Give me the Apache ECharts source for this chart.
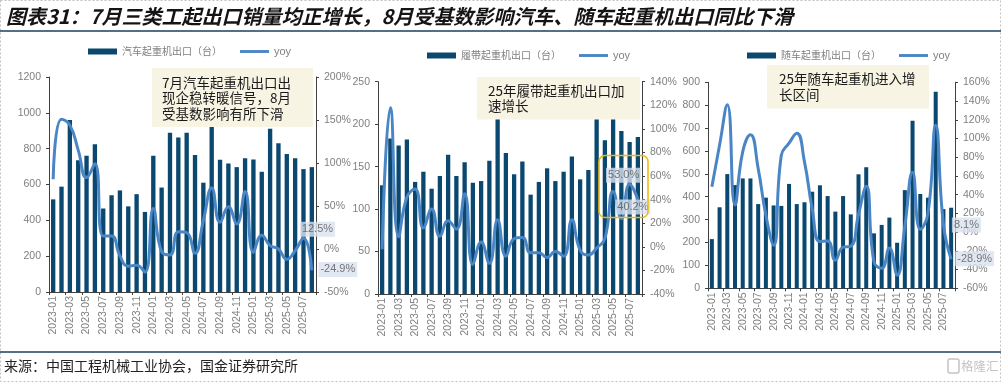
<!DOCTYPE html>
<html><head><meta charset="utf-8">
<script src="https://cdn.jsdelivr.net/npm/echarts@6.0.0/dist/echarts.min.js"></script>
<style>html,body{margin:0;padding:0;background:#fff;}#c{width:1001px;height:382px;}</style>
</head><body><div id="c"></div>
<script>
// ---------- data ----------
const months = ['2023-01','2023-02','2023-03','2023-04','2023-05','2023-06','2023-07','2023-08','2023-09','2023-10','2023-11','2023-12',
  '2024-01','2024-02','2024-03','2024-04','2024-05','2024-06','2024-07','2024-08','2024-09','2024-10','2024-11','2024-12',
  '2025-01','2025-02','2025-03','2025-04','2025-05','2025-06','2025-07','2025-08'];

const truckCraneName = '汽车起重机出口（台）';
const truckCraneExport = [517,588,960,735,761,824,466,540,567,478,546,447,760,583,889,862,889,765,610,960,738,717,697,747,739,671,911,830,770,747,686,697];
const truckCraneYoy = [81,151,144,115,83,99,15,15,-8,-20,-19,-27,47,-3,-7,20,19,-5,33,71,31,49,29,67,-4,16,4,0,-12,-2,12.5,-24.9];

const crawlerCraneName = '履带起重机出口（台）';
const crawlerCraneExport = [128,183,175,182,132,144,124,139,164,139,155,131,133,157,212,166,141,156,117,132,148,133,144,162,135,146,215,181,210,192,179,185];
const crawlerCraneYoy = [-2,118,8.5,42,49,16,32,9,22,15,45,-15,4,-14,23,-8,7,8,-5,-5,-9,-4,-8,23,-3,-7,-1,7,47,24,53.0,40.2];

const loaderCraneName = '随车起重机出口（台）';
const loaderCraneExport = [215,354,499,451,480,480,368,396,362,360,456,368,376,422,450,403,335,403,323,498,529,240,277,309,199,429,732,412,396,859,346,352];
const loaderCraneYoy = [48.5,93,136,29,86,104,68,18,-14,82,95,105.5,75,25,-10,-9.5,-30,-16,-15,19,49,-31.6,-38.7,-17,-46,6,64,3,20,114,8.1,-28.9];

const yoyName = 'yoy';
const leftTicks = [[0,1200,200],[0,250,50],[0,900,100]];
const rightTicks = [[-50,200,50],[-40,140,20],[-60,160,20]];

const chartTitle = '图表31：7月三类工起出口销量均正增长，8月受基数影响汽车、随车起重机出口同比下滑';
const sourceText = '来源：中国工程机械工业协会，国金证券研究所';
const noteTexts = [
  '7月汽车起重机出口出\n现企稳转暖信号，8月\n受基数影响有所下滑',
  '25年履带起重机出口加\n速增长',
  '25年随车起重机进入增\n长区间'
];

// ---------- layout / style ----------
const BAR = '#0b4870';
const LINE = '#4a86c6';
const AX = '#404040';
const TXT = '#7f7f7f';
const FONT = 'Liberation Sans, Arial, Noto Sans CJK SC, sans-serif';
const CJK = 'Noto Sans CJK SC, sans-serif';

const panels = [
  {name: truckCraneName, bars: truckCraneExport, yoy: truckCraneYoy},
  {name: crawlerCraneName, bars: crawlerCraneExport, yoy: crawlerCraneYoy},
  {name: loaderCraneName, bars: loaderCraneExport, yoy: loaderCraneYoy}
];
const layout = [
  {grid:{left:49, top:77, width:267, height:215}, legendLeft:88, legendTop:46,
   box:{x:152, y:68, w:161, h:59, tx:162, ty:75}, offs:[[14,-9],[26,-1]]},
  {grid:{left:378, top:81.7, width:264, height:212.3}, legendLeft:427, legendTop:50,
   box:{x:477, y:77, w:163, h:42.5, tx:488, ty:83}, offs:[[-6,-9],[-5,7.6]]},
  {grid:{left:708, top:82.3, width:247, height:206}, legendLeft:747, legendTop:50,
   box:{x:767, y:65, w:162, h:43.5, tx:779, ty:71.5}, offs:[[23,0.5],[23.5,-0.5]]}
];

const grids = [], xAxes = [], yAxes = [], series = [], legends = [], graphics = [];

panels.forEach((p, i) => {
  const L = layout[i];
  grids.push(Object.assign({containLabel:false}, L.grid));
  xAxes.push({
    type:'category', gridIndex:i, data: months, boundaryGap:true,
    axisLine:{show:true, lineStyle:{color:AX, width:1}},
    axisTick:{show:true, length:3, lineStyle:{color:AX}},
    axisLabel:{rotate:90, interval:1, color:TXT, fontSize:10.5, fontFamily:FONT, margin:4}
  });
  const lt = leftTicks[i], rt = rightTicks[i];
  yAxes.push({
    type:'value', gridIndex:i, position:'left', min:lt[0], max:lt[1], interval:lt[2],
    axisLine:{show:true, lineStyle:{color:AX}}, axisTick:{show:true, length:3, lineStyle:{color:AX}},
    splitLine:{show:false}, axisLabel:{color:TXT, fontSize:10.5, fontFamily:FONT, margin:8, formatter: v => String(v)}
  });
  yAxes.push({
    type:'value', gridIndex:i, position:'right', min:rt[0], max:rt[1], interval:rt[2],
    axisLine:{show:true, lineStyle:{color:AX}}, axisTick:{show:true, length:3, lineStyle:{color:AX}},
    splitLine:{show:false}, axisLabel:{color:TXT, fontSize:10.5, fontFamily:FONT, margin:8, formatter: v => v + '%'}
  });
  series.push({
    type:'bar', name:p.name, xAxisIndex:i, yAxisIndex:2*i, data:p.bars,
    barWidth:'52%', itemStyle:{color:BAR}, z:2
  });
  series.push({
    type:'line', name:yoyName, xAxisIndex:i, yAxisIndex:2*i+1, data:p.yoy,
    smooth:0.5, symbol:'none', lineStyle:{color:LINE, width:3}, itemStyle:{color:LINE}, z:3
  });
  const n = p.yoy.length;
  series.push({
    type:'scatter', name:'lbl'+i, xAxisIndex:i, yAxisIndex:2*i+1, silent:true, z:5,
    symbol:'circle', symbolSize:1, itemStyle:{color:'rgba(0,0,0,0)'},
    data:[n-2, n-1].map((j, k) => ({
      value:[months[j], p.yoy[j]],
      label:{show:true, position:'inside', offset:L.offs[k]}
    })),
    label:{show:true, formatter: q => q.value[1].toFixed(1) + '%',
      backgroundColor:'#d9e2ee', color:'#595959', fontSize:11, fontFamily:FONT, padding:[2,2]}
  });
  legends.push({
    left:L.legendLeft, top:L.legendTop, padding:0, itemWidth:29, itemHeight:6, itemGap:18,
    selectedMode:false,
    data:[{name:p.name, icon:'rect', itemStyle:{color:BAR}, textStyle:{fontSize:10, fontFamily:CJK}},
          {name:yoyName, icon:'path://M0,0H30V3H0Z', itemStyle:{color:LINE, borderWidth:0}, lineStyle:{width:0},
           textStyle:{fontSize:11, fontFamily:FONT}}],
    textStyle:{color:TXT}
  });
  // note boxes
  graphics.push({type:'rect', z:100, shape:{x:L.box.x, y:L.box.y, width:L.box.w, height:L.box.h},
    style:{fill:'#f7f4e3'}});
  graphics.push({type:'text', z:101, x:L.box.tx, y:L.box.ty,
    style:{text:noteTexts[i], fontSize:13.5, fontFamily:CJK, fill:'#1a1a1a', lineHeight:15.5, verticalAlign:'top'}});
});

// highlight box on panel 2
graphics.push({type:'rect', z:102, shape:{x:599, y:155.5, width:49, height:62, r:6},
  style:{fill:'none', stroke:'#f2b705', lineWidth:1.5}});
// frame, title, rules, source, watermark
graphics.push({type:'rect', z:0, shape:{x:0.5, y:0.5, width:1000, height:381},
  style:{fill:'none', stroke:'#c0c0c0', lineWidth:1, lineDash:[2,2]}});
graphics.push({type:'text', z:100, x:6, y:16,
  style:{text:chartTitle, fontSize:20, fontWeight:'bold', fontStyle:'italic', fontFamily:CJK, fill:'#141414', verticalAlign:'middle'}});
graphics.push({type:'line', z:100, shape:{x1:0, y1:31, x2:1001, y2:31}, style:{stroke:'#1c3f5e', lineWidth:1.5}});
graphics.push({type:'line', z:100, shape:{x1:0, y1:352, x2:1001, y2:352}, style:{stroke:'#1c3f5e', lineWidth:1.5}});
graphics.push({type:'text', z:100, x:4, y:366,
  style:{text:sourceText, fontSize:14, fontFamily:CJK, fill:'#222', verticalAlign:'middle'}});
graphics.push({type:'rect', z:100, shape:{x:948, y:359, width:11, height:14, r:2},
  style:{fill:'none', stroke:'#c4c4c4', lineWidth:1.5}});
graphics.push({type:'text', z:100, x:961, y:366,
  style:{text:'格隆汇', fontSize:12.5, fontFamily:CJK, fill:'#c4c4c4', verticalAlign:'middle'}});

const chart = echarts.init(document.getElementById('c'), null, {renderer:'canvas'});
chart.setOption({
  animation:false,
  backgroundColor:'#ffffff',
  grid:grids, xAxis:xAxes, yAxis:yAxes, series:series, legend:legends, graphic:graphics
});
</script></body></html>
